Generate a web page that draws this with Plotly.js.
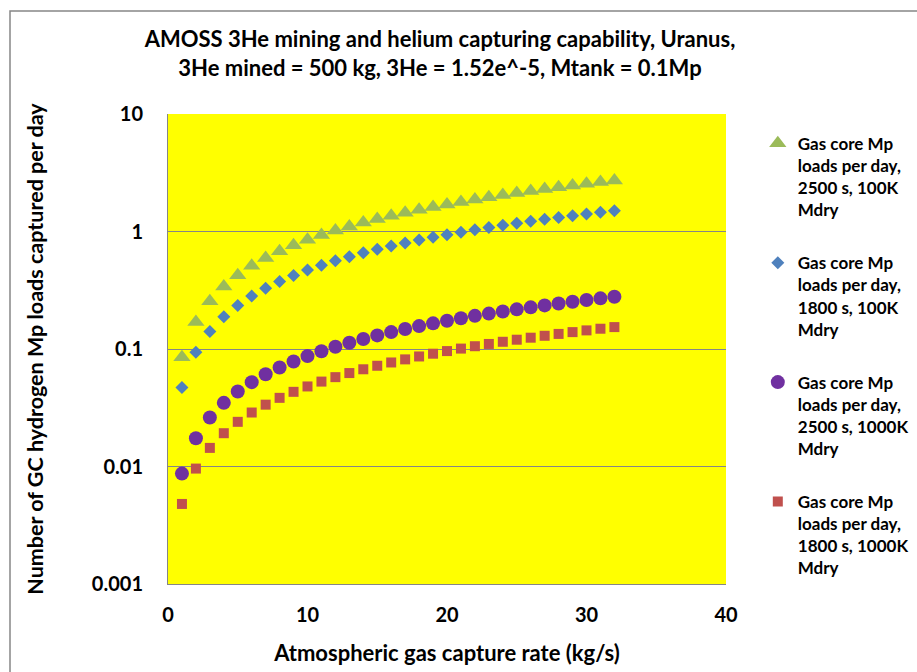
<!DOCTYPE html>
<html>
<head>
<meta charset="utf-8">
<script src="https://cdn.plot.ly/plotly-3.0.1.min.js"></script>
<style>html,body{margin:0;padding:0;background:#fff;}#chart{width:917px;height:672px;}</style>
</head>
<body>
<div id="chart"></div>
<script>
// Atmospheric gas capture rate (kg/s)
const captureRate = [1,2,3,4,5,6,7,8,9,10,11,12,13,14,15,16,17,18,19,20,21,22,23,24,25,26,27,28,29,30,31,32];

// Gas core Mp loads per day, 2500 s, 100K Mdry
const loads2500_100K = [0.085,0.17,0.255,0.34,0.425,0.51,0.595,0.68,0.765,0.85,0.935,1.02,1.105,1.19,1.275,1.36,1.445,1.53,1.615,1.7,1.785,1.87,1.955,2.04,2.125,2.21,2.295,2.38,2.465,2.55,2.635,2.72];
// Gas core Mp loads per day, 1800 s, 100K Mdry
const loads1800_100K = [0.047,0.094,0.141,0.188,0.235,0.282,0.329,0.376,0.423,0.47,0.517,0.564,0.611,0.658,0.705,0.752,0.799,0.846,0.893,0.94,0.987,1.034,1.081,1.128,1.175,1.222,1.269,1.316,1.363,1.41,1.457,1.504];
// Gas core Mp loads per day, 2500 s, 1000K Mdry
const loads2500_1000K = [0.0087,0.0174,0.0261,0.0348,0.0435,0.0522,0.0609,0.0696,0.0783,0.087,0.0957,0.1044,0.1131,0.1218,0.1305,0.1392,0.1479,0.1566,0.1653,0.174,0.1827,0.1914,0.2001,0.2088,0.2175,0.2262,0.2349,0.2436,0.2523,0.261,0.2697,0.2784];
// Gas core Mp loads per day, 1800 s, 1000K Mdry
const loads1800_1000K = [0.0048,0.0096,0.0144,0.0192,0.024,0.0288,0.0336,0.0384,0.0432,0.048,0.0528,0.0576,0.0624,0.0672,0.072,0.0768,0.0816,0.0864,0.0912,0.096,0.1008,0.1056,0.1104,0.1152,0.12,0.1248,0.1296,0.1344,0.1392,0.144,0.1488,0.1536];

const seriesNames = [
  "Gas core Mp<br>loads per day,<br>2500 s, 100K<br>Mdry",
  "Gas core Mp<br>loads per day,<br>1800 s, 100K<br>Mdry",
  "Gas core Mp<br>loads per day,<br>2500 s, 1000K<br>Mdry",
  "Gas core Mp<br>loads per day,<br>1800 s, 1000K<br>Mdry"
];
const xTickVals = [0,10,20,30,40];
const yTickVals = [0.001,0.01,0.1,1,10];
const yTickText = ["0.001","0.01","0.1","1","10"];

const FONT = "Lato, Carlito, Calibri, 'Open Sans', sans-serif";

const traces = [
  {x: captureRate, y: loads2500_100K, name: seriesNames[0], legendgroup: "a",
   marker: {symbol: "triangle-up", size: 15, color: "#9BBB59"}},
  {x: captureRate, y: loads1800_100K, name: seriesNames[1], legendgroup: "b",
   marker: {symbol: "diamond", size: 10, color: "#4F81BD"}},
  {x: captureRate, y: loads2500_1000K, name: seriesNames[2], legendgroup: "c",
   marker: {symbol: "circle", size: 14, color: "#7030A0"}},
  {x: captureRate, y: loads1800_1000K, name: seriesNames[3], legendgroup: "d",
   marker: {symbol: "square", size: 10, color: "#C0504D"}}
].map(t => Object.assign({type: "scatter", mode: "markers", cliponaxis: false}, t));

const layout = {
  width: 917, height: 672,
  paper_bgcolor: "#ffffff",
  plot_bgcolor: "#FFFF00",
  margin: {l: 168, r: 191, t: 114, b: 88, autoexpand: false},
  font: {family: FONT, color: "#000", size: 17, weight: "bold"},
  title: {
    text: "AMOSS 3He mining and helium capturing capability, Uranus,<br>3He mined = 500 kg, 3He = 1.52e^-5, Mtank = 0.1Mp",
    font: {family: FONT, size: 22, weight: "bold", color: "#000"},
    x: 440 / 917, xref: "container", xanchor: "center",
    y: 1 - 47 / 672, yref: "container", yanchor: "top"
  },
  xaxis: {
    range: [0, 40], tickvals: xTickVals,
    showgrid: false, zeroline: false,
    showline: true, linecolor: "#868686", linewidth: 1,
    ticks: "", ticklabelstandoff: 13,
    tickfont: {family: FONT, size: 20, weight: "bold"},
    title: {text: "Atmospheric gas capture rate (kg/s)", font: {family: FONT, size: 22, weight: "bold"}, standoff: 20}
  },
  yaxis: {
    type: "log", range: [-3, 1], tickvals: yTickVals, ticktext: yTickText,
    showgrid: true, gridcolor: "#868686", gridwidth: 1,
    zeroline: false,
    showline: true, linecolor: "#868686", linewidth: 1,
    ticks: "", ticklabelstandoff: 20,
    tickfont: {family: FONT, size: 20, weight: "bold"},
    title: {text: "Number of GC hydrogen Mp loads captured per day", font: {family: FONT, size: 21.5, weight: "bold"}, standoff: 42}
  },
  legend: {
    x: 1.057, xanchor: "left", y: 0.975, yanchor: "top",
    bgcolor: "rgba(0,0,0,0)",
    font: {family: FONT, size: 17, weight: "bold", color: "#000"},
    tracegroupgap: 28, valign: "top", itemwidth: 30
  },
  showlegend: true,
  shapes: [{
    type: "rect", xref: "paper", yref: "paper",
    x0: (10 - 168) / 558, x1: (930 - 168) / 558,
    y0: (584 - 690) / 470, y1: (584 - 11) / 470,
    line: {color: "#868686", width: 1.5}, fillcolor: "rgba(0,0,0,0)", layer: "below"
  }]
};

Plotly.newPlot("chart", traces, layout, {displayModeBar: false, staticPlot: true});
</script>
</body>
</html>
